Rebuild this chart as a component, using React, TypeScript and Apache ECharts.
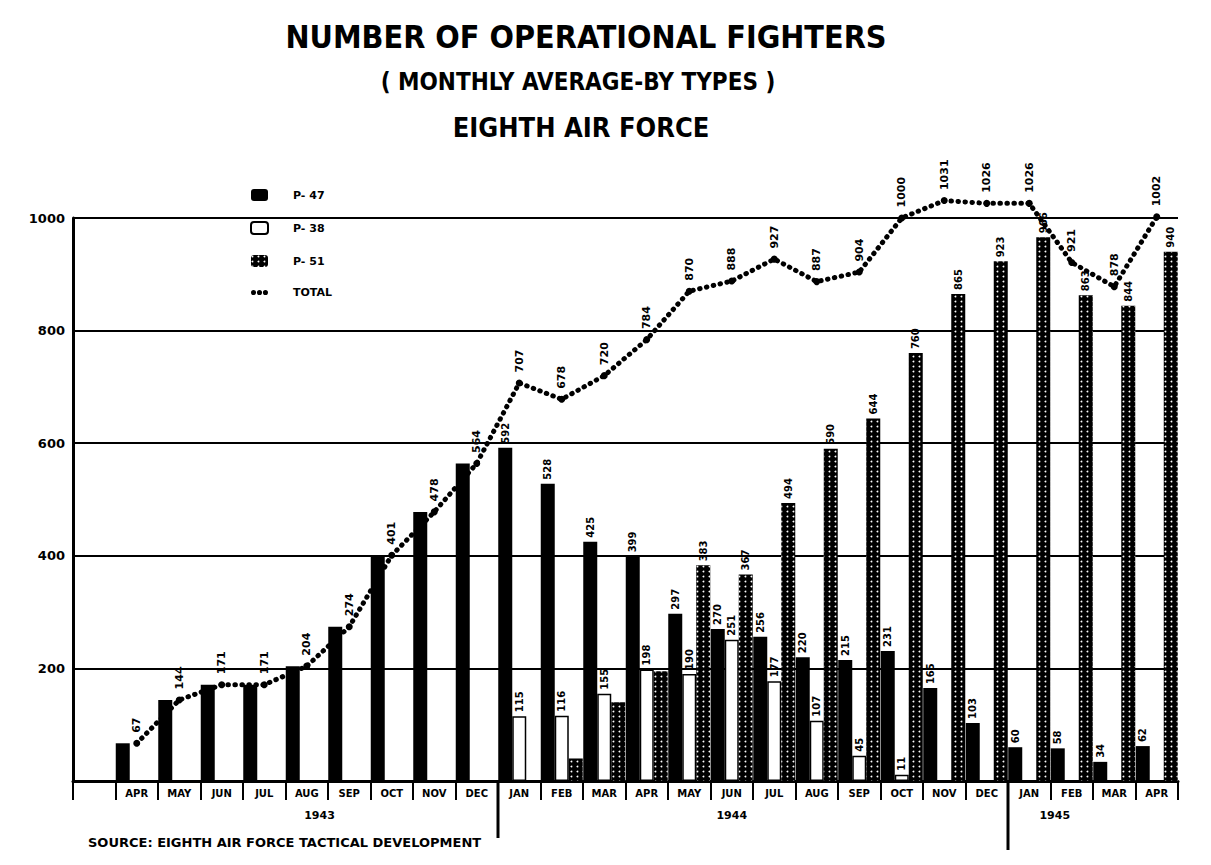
import React, { useEffect, useRef } from 'react';
import * as echarts from 'echarts';

// ---- data ----
const months = ['', 'APR', 'MAY', 'JUN', 'JUL', 'AUG', 'SEP', 'OCT', 'NOV', 'DEC',
  'JAN', 'FEB', 'MAR', 'APR', 'MAY', 'JUN', 'JUL', 'AUG', 'SEP', 'OCT', 'NOV', 'DEC',
  'JAN', 'FEB', 'MAR', 'APR'];
const p47 = [null, 67, 144, 171, 171, 204, 274, 401, 478, 564,
  592, 528, 425, 399, 297, 270, 256, 220, 215, 231, 165, 103,
  60, 58, 34, 62];
const p38 = [null, null, null, null, null, null, null, null, null, null,
  115, 116, 155, 198, 190, 251, 177, 107, 45, 11, null, null,
  null, null, null, null];
const p51 = [null, null, null, null, null, null, null, null, null, null,
  null, 40, 140, 195, 383, 367, 494, 590, 644, 760, 865, 923,
  966, 863, 844, 940];
const total = [null, 67, 144, 171, 171, 204, 274, 401, 478, 564,
  707, 678, 720, 784, 870, 888, 927, 887, 904, 1000, 1031, 1026,
  1026, 921, 878, 1002];
const years = ['1943', '1944', '1945'];
const seriesNames = ['P- 47', 'P- 38', 'P- 51', 'TOTAL'];
const titleLines = ['NUMBER OF OPERATIONAL FIGHTERS', '( MONTHLY AVERAGE-BY TYPES )', 'EIGHTH AIR FORCE'];
const sourceNote = 'SOURCE: EIGHTH AIR FORCE TACTICAL DEVELOPMENT';
const firstLabeledBar = 10; // bar labels start in 1944

const FONT = '"DejaVu Sans", "Liberation Sans", sans-serif';
const COND = '"DejaVu Sans Condensed", "Liberation Sans Narrow", "DejaVu Sans", sans-serif';

export default function App() {
  const ref = useRef<HTMLDivElement>(null);
  useEffect(() => {
    if (!ref.current) return;
    const chart = echarts.init(ref.current, null, { renderer: 'svg' });
    const barLabel = (minIdx: number, minVal: number) => ({
      show: true,
      position: 'top',
      rotate: 90,
      align: 'left',
      verticalAlign: 'middle',
      distance: 4,
      fontSize: 10,
      fontWeight: 'bold',
      fontFamily: FONT,
      color: '#000',
      formatter: (p: any) => (p.dataIndex >= minIdx && p.value != null && p.value >= minVal ? String(p.value) : ''),
    });
    const option: any = {
      animation: false,
      backgroundColor: '#fff',
      textStyle: { fontFamily: FONT, fontWeight: 'bold', color: '#000' },
      grid: { left: 73, right: 33, top: 218, bottom: 84, containLabel: false },
      legend: {
        orient: 'vertical',
        left: 245,
        top: 184,
        itemWidth: 17,
        itemHeight: 12,
        itemGap: 20,
        textStyle: { fontSize: 11, fontWeight: 'bold', fontFamily: FONT, color: '#000', padding: [0, 0, 0, 20] },
        data: [
          { name: seriesNames[0] },
          { name: seriesNames[1] },
          { name: seriesNames[2] },
          { name: seriesNames[3], icon: 'path://M0,3a3,3 0 1,0 6,0a3,3 0 1,0 -6,0Z M7,3a3,3 0 1,0 6,0a3,3 0 1,0 -6,0Z M14,3a3,3 0 1,0 6,0a3,3 0 1,0 -6,0Z' },
        ],
      },
      xAxis: {
        type: 'category',
        data: months,
        boundaryGap: true,
        axisLine: { show: true, lineStyle: { color: '#000', width: 3 } },
        axisTick: { show: true, interval: 0, length: 19, lineStyle: { color: '#000', width: 2 } },
        axisLabel: { interval: 0, fontSize: 10, fontWeight: 'bold', fontFamily: FONT, color: '#000', margin: 7 },
        splitLine: { show: false },
      },
      yAxis: {
        type: 'value',
        min: 0,
        max: 1000,
        interval: 200,
        axisLine: { show: true, lineStyle: { color: '#000', width: 3 } },
        axisTick: { show: false },
        axisLabel: {
          fontSize: 13, fontWeight: 'bold', fontFamily: FONT, color: '#000', margin: 8,
          formatter: (v: number) => (v === 0 ? '' : String(v)),
        },
        splitLine: { show: true, lineStyle: { color: '#000', width: 2 } },
      },
      series: [
        {
          name: seriesNames[0], type: 'bar', data: p47, barWidth: 14, barGap: '0%',
          itemStyle: { color: '#000' },
          label: barLabel(firstLabeledBar, 0),
        },
        {
          name: seriesNames[1], type: 'bar', data: p38, barWidth: 14, barGap: '0%',
          itemStyle: { color: '#fff', borderColor: '#000', borderWidth: 1.5 },
          label: barLabel(firstLabeledBar, 0),
        },
        {
          name: seriesNames[2], type: 'bar', data: p51, barWidth: 14, barGap: '0%',
          itemStyle: {
            color: '#000',
            decal: { symbol: 'circle', symbolSize: 0.6, color: '#fff', dashArrayX: [3, 3], dashArrayY: [3, 2], rotation: 0 },
          },
          label: barLabel(firstLabeledBar, 300),
        },
        {
          name: seriesNames[3], type: 'line', data: total, clip: false, z: 5,
          symbol: 'circle', symbolSize: 7, showSymbol: true,
          itemStyle: { color: '#000' },
          lineStyle: { color: '#000', width: 5, type: [0.5, 6.5], cap: 'round' },
          label: {
            show: true, position: 'top', rotate: 90, align: 'left', verticalAlign: 'middle', distance: 7,
            fontSize: 11, fontWeight: 'bold', fontFamily: FONT, color: '#000',
          },
        },
      ],
    };
    chart.setOption(option);

    const x0 = chart.convertToPixel({ xAxisIndex: 0 }, 0) as number;
    const x1 = chart.convertToPixel({ xAxisIndex: 0 }, 1) as number;
    const step = x1 - x0;
    const catX = (f: number) => x0 + f * step;
    const yBase = chart.convertToPixel({ yAxisIndex: 0 }, 0) as number;
    const yearPos = [5.3, 15.0, 22.6];
    const sepPos = [9.5, 21.5];
    const sepLen = [57, 69];

    const graphic: any[] = [
      { type: 'text', x: 586, y: 37, style: { text: titleLines[0], align: 'center', verticalAlign: 'middle', font: `bold 32px ${COND}`, fill: '#000' } },
      { type: 'text', x: 578, y: 82, style: { text: titleLines[1], align: 'center', verticalAlign: 'middle', font: `bold 24px ${COND}`, fill: '#000' } },
      { type: 'text', x: 581, y: 127, style: { text: titleLines[2], align: 'center', verticalAlign: 'middle', font: `bold 27px ${COND}`, fill: '#000' } },
      { type: 'text', x: 88, y: 842, style: { text: sourceNote, align: 'left', verticalAlign: 'middle', font: `bold 13px ${FONT}`, fill: '#000' } },
    ];
    years.forEach((yr, i) => {
      graphic.push({ type: 'text', x: catX(yearPos[i]), y: yBase + 34, style: { text: yr, align: 'center', verticalAlign: 'middle', font: `bold 11px ${FONT}`, fill: '#000' } });
    });
    sepPos.forEach((s, i) => {
      graphic.push({ type: 'line', shape: { x1: catX(s), y1: yBase, x2: catX(s), y2: yBase + sepLen[i] }, style: { stroke: '#000', lineWidth: 3 } });
    });
    chart.setOption({ graphic });

    return () => chart.dispose();
  }, []);
  return <div ref={ref} style={{ position: 'absolute', left: 0, top: 0, width: '1211px', height: '865px' }} />;
}
